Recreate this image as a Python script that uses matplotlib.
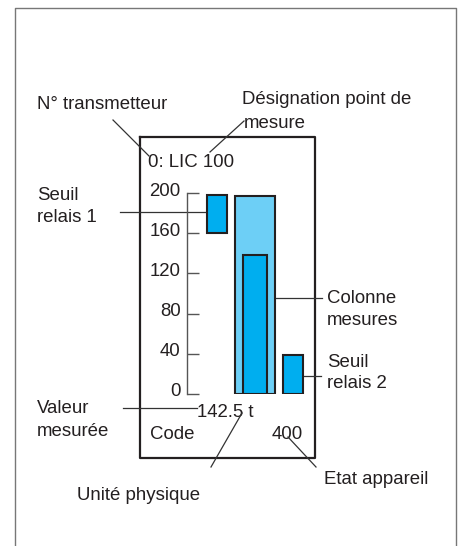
import matplotlib.pyplot as plt
from matplotlib.transforms import ScaledTranslation

plt.rcParams['font.family'] = ['Liberation Sans', 'DejaVu Sans']

# bar values (scale 0..200)
bar_names = ['Seuil relais 1', 'Colonne mesures', 'Mesure', 'Seuil relais 2']
bar_bottoms = [160, 0, 0, 0]
bar_tops = [198, 197, 138, 39]
scale_ticks = [0, 40, 80, 120, 160, 200]

header = '0: LIC 100'
value_text = '142.5 t'
code_text = 'Code'
state_text = '400'

INK = '#231f20'
DARK = '#00aeef'
LIGHT = '#6dcff6'
FS = 13.4

fig = plt.figure(figsize=(4.64, 5.46), dpi=100)
ax = fig.add_axes([0, 0, 1, 1])
ax.set_xlim(0, 464)
ax.set_ylim(546, 0)
ax.axis('off')

# outer frame (open at the bottom)
ax.plot([15.5, 15.5, 456.5, 456.5], [546, 7.5, 7.5, 546], color='#777777', lw=1)

# display box
ax.plot([140, 315, 315, 140, 140], [137, 137, 458, 458, 137], color=INK, lw=1.6)

# bar display, drawn on its own scale
ax_bar = fig.add_axes([187 / 464, (546 - 394) / 546, (320 - 187) / 464, 201 / 546])
ax_bar.set_ylim(0, 200)
ax_bar.set_xlim(187, 320)
ax_bar.patch.set_visible(False)
for side in ['top', 'right', 'bottom']:
    ax_bar.spines[side].set_visible(False)
ax_bar.spines['left'].set_color('#555555')
ax_bar.spines['left'].set_linewidth(1)
ax_bar.set_xticks([])
ax_bar.set_yticks(scale_ticks)
ax_bar.tick_params(axis='y', direction='in', length=8.6, width=1, color='#555555',
                   labelsize=FS, labelcolor=INK, pad=4.5)
for lab in ax_bar.get_yticklabels():
    lab.set_transform(lab.get_transform() + ScaledTranslation(0, 0.04, fig.dpi_scale_trans))

centers = [217, 255, 255, 293]
widths = [20, 40, 24, 20]
colors = [DARK, LIGHT, DARK, DARK]
for i in range(len(bar_names)):
    ax_bar.bar(centers[i], bar_tops[i] - bar_bottoms[i], bottom=bar_bottoms[i], width=widths[i],
               color=colors[i], edgecolor=INK, linewidth=1.5, zorder=2 + i)

# texts inside the display
ax.text(148, 167, header, fontsize=FS, color=INK, va='baseline')
ax.text(197, 417, value_text, fontsize=FS, color=INK, va='baseline')
ax.text(150, 439, code_text, fontsize=FS, color=INK, va='baseline')
ax.text(303, 439, state_text, fontsize=FS, color=INK, va='baseline', ha='right')

# labels around
labels = [
    (37, 109, 'N° transmetteur'),
    (242, 104, 'Désignation point de'),
    (244, 128, 'mesure'),
    (37, 200, 'Seuil'),
    (37, 222, 'relais 1'),
    (327, 303, 'Colonne'),
    (327, 325, 'mesures'),
    (327, 367, 'Seuil'),
    (327, 388, 'relais 2'),
    (37, 413, 'Valeur'),
    (37, 436, 'mesurée'),
    (324, 484, 'Etat appareil'),
    (77, 500, 'Unité physique'),
]
for x, y, s in labels:
    ax.text(x, y, s, fontsize=FS, color=INK, va='baseline')

# leader lines
leaders = [
    ((113, 149), (120, 156)),
    ((244, 210), (121, 152)),
    ((120, 211), (212, 212)),
    ((271, 322), (298, 298)),
    ((293, 321), (376, 376)),
    ((123, 197), (408, 408)),
    ((211, 242), (467, 413)),
    ((288, 316), (437, 467)),
]
for xs, ys in leaders:
    ax.plot(xs, ys, color='#333333', lw=0.9, zorder=5)

fig.savefig('out.png', dpi=100)
